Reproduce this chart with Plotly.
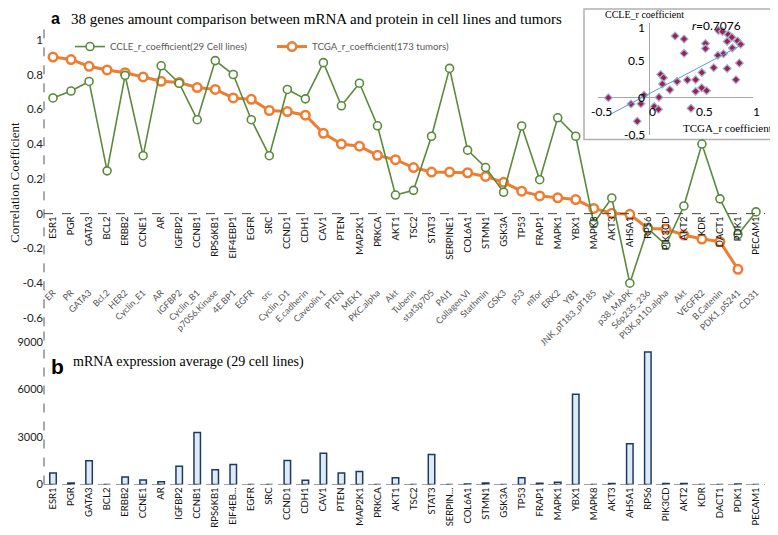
import numpy as np
import plotly.graph_objects as go

genes = ["ESR1","PGR","GATA3","BCL2","ERBB2","CCNE1","AR","IGFBP2","CCNB1","RPS6KB1",
         "EIF4EBP1","EGFR","SRC","CCND1","CDH1","CAV1","PTEN","MAP2K1","PRKCA","AKT1",
         "TSC2","STAT3","SERPINE1","COL6A1","STMN1","GSK3A","TP53","FRAP1","MAPK1","YBX1",
         "MAPK8","AKT3","AHSA1","RPS6","PIK3CD","AKT2","KDR","DACT1","PDK1","PECAM1"]
proteins = ["ER","PR","GATA3","Bcl.2","HER2","Cyclin_E1","AR","IGFBP2","Cyclin_B1","p70S6.Kinase",
            "4E.BP1","EGFR","src","Cyclin_D1","E.cadherin","Caveolin.1","PTEN","MEK1","PKC.alpha","Akt",
            "Tuberin","stat3p705","PAI1","Collagen.VI","Stathmin","GSK3","p53","mTor","ERK2","YB1",
            "JNK_pT183_pT185","Akt","p38_MAPK","S6p235_236","PI3K.p110.alpha","Akt","VEGFR2","B.Catenin","PDK1_pS241","CD31"]
bar_labels = ["ESR1","PGR","GATA3","BCL2","ERBB2","CCNE1","AR","IGFBP2","CCNB1","RPS6KB1",
              "EIF4EB...","EGFR","SRC","CCND1","CDH1","CAV1","PTEN","MAP2K1","PRKCA","AKT1",
              "TSC2","STAT3","SERPIN...","COL6A1","STMN1","GSK3A","TP53","FRAP1","MAPK1","YBX1",
              "MAPK8","AKT3","AHSA1","RPS6","PIK3CD","AKT2","KDR","DACT1","PDK1","PECAM1"]
ccle = [0.665,0.705,0.76,0.246,0.795,0.333,0.85,0.75,0.54,0.88,
        0.80,0.54,0.333,0.714,0.66,0.868,0.62,0.75,0.505,0.107,
        0.134,0.445,0.835,0.365,0.265,0.123,0.504,0.195,0.551,0.445,
        -0.055,0.09,-0.40,-0.085,-0.18,0.044,0.40,0.085,-0.12,0.01]
tcga = [0.90,0.886,0.847,0.826,0.81,0.786,0.761,0.754,0.725,0.714,
        0.665,0.657,0.593,0.587,0.566,0.462,0.40,0.388,0.335,0.31,
        0.265,0.239,0.239,0.235,0.214,0.18,0.129,0.102,0.091,0.081,
        0.03,0.002,-0.004,-0.085,-0.089,-0.123,-0.146,-0.161,-0.32,None]
mrna = [730,100,1500,0,480,290,170,1150,3290,940,
        1270,0,0,1520,270,1980,730,830,0,420,
        0,1900,0,40,100,0,420,80,150,5710,
        0,60,2580,8375,60,60,0,0,40,0]
yticks_a = [-0.6,-0.4,-0.2,0,0.2,0.4,0.6,0.8,1]
ytext_a = ["-0.6","-0.4","-0.2","0","0.2","0.4","0.6","0.8","1"]
yticks_b = [0,3000,6000,9000]
inset_ticks = [-0.5,0,0.5,1]
inset_text = ["-0.5","0","0.5","1"]
r_text = "<i>r</i>=0.7076"

GREEN = "#5A8A3C"
ORANGE = "#ED7D31"
OFF = 8                      # page body margin
W, H = 778 - OFF, 535 - OFF
L = 44 - OFF
R = W - (765 - OFF)
PW = W - L - R
def fx(px): return (px - OFF - L) / PW
def fy(py): return 1 - (py - OFF) / H

fig = go.Figure()
fig.add_trace(go.Scatter(x=genes, y=ccle, xaxis="x2", yaxis="y", mode="lines+markers",
                         name="CCLE_r_coefficient(29 Cell lines)",
                         line=dict(color=GREEN, width=1.6),
                         marker=dict(symbol="circle", size=8, color="white", line=dict(color=GREEN, width=1.6))))
fig.add_trace(go.Scatter(x=genes, y=tcga, xaxis="x", yaxis="y", mode="lines+markers",
                         name="TCGA_r_coefficient(173 tumors)",
                         line=dict(color=ORANGE, width=3),
                         marker=dict(symbol="circle", size=8.5, color="white", line=dict(color=ORANGE, width=2.5))))
fig.add_trace(go.Bar(x=genes, y=mrna, xaxis="x3", yaxis="y3", showlegend=False,
                     marker=dict(color="#DDEBF7", line=dict(color="#1F3864", width=1.5))))

# inset scatter: CCLE vs TCGA
pairs = [(c, t) for c, t in zip(ccle, tcga) if t is not None]
sx = np.array([p[0] for p in pairs]); sy = np.array([p[1] for p in pairs])
fig.add_trace(go.Scatter(x=sx, y=sy, xaxis="x4", yaxis="y4", mode="markers", showlegend=False,
                         marker=dict(symbol="diamond", size=6, color="#A31F45", line=dict(color="#9DB3DC", width=1.2))))
k, b0 = np.polyfit(sx, sy, 1)
lx = np.array([sx.min(), sx.max()])
fig.add_trace(go.Scatter(x=lx, y=k * lx + b0, xaxis="x4", yaxis="y4", mode="lines", showlegend=False,
                         line=dict(color="#5B9BD5", width=1)))

gene_font = dict(family="Lato", size=9.5, color="#111111")
fig.update_layout(
    width=W, height=H, margin=dict(l=L, r=R, t=0, b=0),
    plot_bgcolor="white", paper_bgcolor="white", bargap=0.64,
    xaxis=dict(domain=[0, 1], type="category", range=[-0.5, 39.5], anchor="free", position=fy(216),
               tickmode="array", tickvals=genes, ticktext=genes, tickangle=-90, showgrid=False,
               zeroline=False, showline=False, ticks="", tickfont=gene_font),
    xaxis2=dict(overlaying="x", matches="x", type="category", range=[-0.5, 39.5], anchor="free",
                position=fy(288), tickmode="array", tickvals=genes, ticktext=proteins, tickangle=-45,
                showgrid=False, zeroline=False, showline=False, ticks="",
                tickfont=dict(family="Lato", size=9, color="#555555")),
    yaxis=dict(domain=[fy(330), fy(26)], range=[-0.648, 1.08], tickvals=yticks_a, ticktext=ytext_a,
               showgrid=False, zeroline=False, showline=False, ticks="",
               tickfont=dict(family="Lato", size=11.5, color="#222222")),
    xaxis3=dict(domain=[0, 1], type="category", range=[-0.5, 39.5], anchor="y3",
                tickmode="array", tickvals=genes, ticktext=bar_labels, tickangle=-90, showgrid=False,
                zeroline=False, showline=False, ticks="", tickfont=gene_font),
    yaxis3=dict(domain=[fy(490), fy(333)], range=[0, 9812], tickvals=yticks_b, anchor="x3",
                showgrid=False, zeroline=False, showline=False, ticks="",
                tickfont=dict(family="Lato", size=11, color="#222222")),
    xaxis4=dict(domain=[fx(598), fx(753)], range=[-0.5, 1], anchor="y4", showgrid=False,
                showticklabels=False, zeroline=True, zerolinecolor="#A6A6A6", zerolinewidth=1,
                showline=False, ticks=""),
    yaxis4=dict(domain=[fy(136), fy(23.3)], range=[-0.5, 1], anchor="x4", showgrid=False,
                showticklabels=False, zeroline=True, zerolinecolor="#A6A6A6", zerolinewidth=1,
                showline=False, ticks=""),
    legend=dict(orientation="h", x=fx(70), y=fy(47), xanchor="left", yanchor="middle",
                bgcolor="rgba(0,0,0,0)", font=dict(family="Lato", size=9.7, color="#595959"),
                itemwidth=30, entrywidth=157),
)

shapes = [
    dict(type="rect", xref="paper", yref="paper", x0=fx(584), x1=fx(777), y0=fy(141), y1=fy(9),
         line=dict(color="#B0B0B0", width=1.5), fillcolor="white", layer="below"),
    dict(type="line", xref="paper", yref="y domain", x0=0, x1=0, y0=0, y1=1,
         line=dict(color="#555555", width=1, dash="dash")),
    dict(type="line", xref="paper", yref="y3 domain", x0=0, x1=0, y0=0, y1=1,
         line=dict(color="#555555", width=1, dash="dash")),
    dict(type="line", xref="x domain", yref="y", x0=0, x1=1, y0=0, y1=0,
         line=dict(color="#444444", width=1, dash="dash")),
    dict(type="line", xref="x3 domain", yref="y3", x0=0, x1=1, y0=0, y1=0,
         line=dict(color="#444444", width=1, dash="dash")),
]
fig.update_layout(shapes=shapes)

ann = [
    dict(text="<b>a</b>", xref="paper", yref="paper", x=fx(49), y=fy(19), xanchor="left", yanchor="middle",
         showarrow=False, font=dict(family="Liberation Sans", size=16, color="black")),
    dict(text="38 genes amount comparison between mRNA and protein in cell lines and tumors",
         xref="paper", yref="paper", x=fx(69), y=fy(19), xanchor="left", yanchor="middle",
         showarrow=False, font=dict(family="Liberation Serif", size=15, color="black")),
    dict(text="Correlation Coefficient", xref="paper", yref="paper", x=fx(15), y=fy(185),
         xanchor="center", yanchor="middle", textangle=-90, showarrow=False,
         font=dict(family="Liberation Serif", size=13, color="#111111")),
    dict(text="<b>b</b>", xref="paper", yref="paper", x=fx(49), y=fy(371), xanchor="left", yanchor="middle",
         showarrow=False, font=dict(family="Liberation Sans", size=21, color="black")),
    dict(text="mRNA expression average (29 cell lines)", xref="paper", yref="paper", x=fx(71), y=fy(366),
         xanchor="left", yanchor="middle", showarrow=False,
         font=dict(family="Liberation Serif", size=14, color="black")),
    dict(text="CCLE_r coefficient", xref="paper", yref="paper", x=fx(603), y=fy(14.5), xanchor="left",
         yanchor="middle", showarrow=False, font=dict(family="Liberation Serif", size=10, color="black")),
    dict(text="TCGA_r coefficient", xref="paper", yref="paper", x=fx(774), y=fy(129), xanchor="right",
         yanchor="middle", showarrow=False, font=dict(family="Liberation Serif", size=11, color="black")),
    dict(text=r_text, xref="paper", yref="paper", x=fx(690), y=fy(26), xanchor="left",
         yanchor="middle", showarrow=False, font=dict(family="Lato", size=12, color="black")),
]
for v, t in zip(inset_ticks, inset_text):
    ann.append(dict(text=t, xref="x4", yref="y4", x=v, y=-0.19, xanchor="center", yanchor="middle",
                    xshift=3, showarrow=False, font=dict(family="Lato", size=12, color="black")))
    ann.append(dict(text=t, xref="x4", yref="y4", x=-0.03, y=v, xanchor="right", yanchor="middle",
                    yshift=(-4 if v == 1 else 0), showarrow=False,
                    font=dict(family="Lato", size=12, color="black")))
fig.update_layout(annotations=ann)

fig.write_html("out.html")
